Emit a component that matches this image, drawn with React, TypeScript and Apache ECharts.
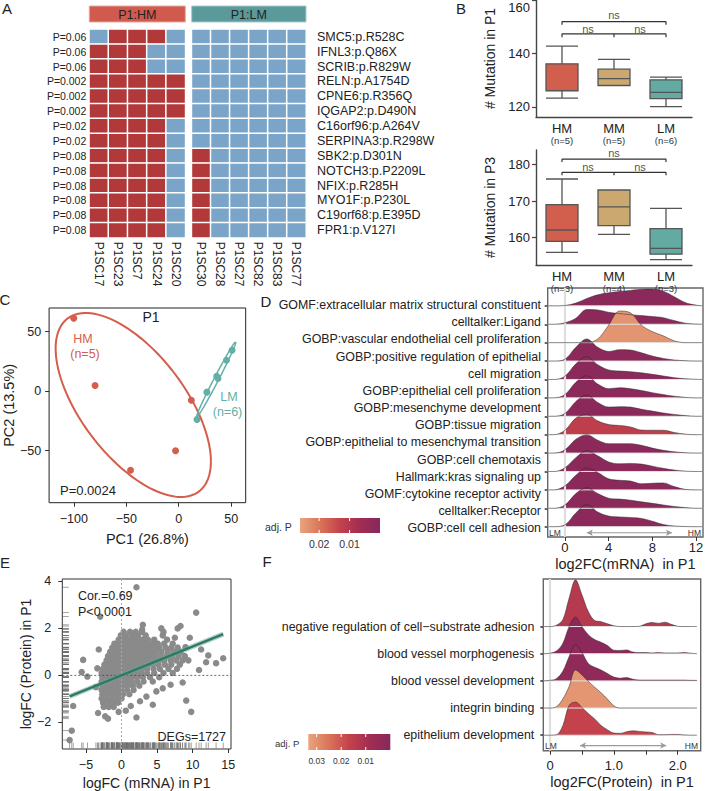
import React, { useEffect, useRef } from "react";
import * as echarts from "echarts";

const FONT = "'Liberation Sans', Arial, Helvetica, sans-serif";

// ---------------- Panel A : mutation heatmap ----------------
const hmSamples = ["P1SC17", "P1SC23", "P1SC7", "P1SC24", "P1SC20"];
const lmSamples = ["P1SC30", "P1SC28", "P1SC27", "P1SC82", "P1SC83", "P1SC77"];
const mutations = [
  "SMC5:p.R528C", "IFNL3:p.Q86X", "SCRIB:p.R829W", "RELN:p.A1754D", "CPNE6:p.R356Q",
  "IQGAP2:p.D490N", "C16orf96:p.A264V", "SERPINA3:p.R298W", "SBK2:p.D301N",
  "NOTCH3:p.P2209L", "NFIX:p.R285H", "MYO1F:p.P230L", "C19orf68:p.E395D", "FPR1:p.V127I",
];
const mutationP = [
  "P=0.06", "P=0.06", "P=0.06", "P=0.002", "P=0.002", "P=0.002", "P=0.02",
  "P=0.02", "P=0.08", "P=0.08", "P=0.08", "P=0.08", "P=0.08", "P=0.08",
];
const hmCalls = [
  [0, 1, 1, 1, 0], [1, 1, 1, 0, 0], [1, 1, 1, 0, 0], [1, 1, 1, 1, 1], [1, 1, 1, 1, 1],
  [1, 1, 1, 1, 1], [1, 1, 1, 1, 0], [1, 1, 1, 1, 0], [1, 1, 1, 1, 0], [1, 1, 1, 1, 0],
  [1, 1, 1, 1, 0], [1, 1, 1, 1, 0], [1, 1, 1, 1, 0], [1, 1, 1, 1, 0],
];
const lmCalls = [
  [0, 0, 0, 0, 0, 0], [0, 0, 0, 0, 0, 0], [0, 0, 0, 0, 0, 0], [0, 0, 0, 0, 0, 0],
  [0, 0, 0, 0, 0, 0], [0, 0, 0, 0, 0, 0], [0, 0, 0, 0, 0, 0], [0, 0, 0, 0, 0, 0],
  [1, 0, 0, 0, 0, 0], [1, 0, 0, 0, 0, 0], [1, 0, 0, 0, 0, 0], [1, 0, 0, 0, 0, 0],
  [1, 0, 0, 0, 0, 0], [1, 0, 0, 0, 0, 0],
];

// ---------------- Panel B : mutation counts ----------------
const groups = ["HM", "MM", "LM"];
const p1N = [5, 5, 6];
const p1Box = [
  [123.3, 126.0, 126.1, 136.1, 142.7],
  [128.0, 128.0, 130.6, 134.1, 137.8],
  [120.1, 123.1, 125.4, 130.1, 131.1],
];
const p3N = [3, 4, 3];
const p3Box = [
  [156.0, 159.0, 162.1, 169.0, 176.0],
  [160.9, 163.3, 168.4, 173.0, 173.0],
  [154.0, 155.5, 157.1, 162.5, 168.0],
];
const p1Bracket = { top: 151.9, low: 147.3, tick: 1.2, nsTop: 154.3, nsLow: 149.3 };
const p3Bracket = { top: 181.4, low: 177.8, tick: 0.8, nsTop: 183.0, nsLow: 179.4 };

// ---------------- Panel C : PCA ----------------
const pcaHM = [[-100, 61.3], [-79.7, 4.8], [12, -7.6], [-3, -50], [-45.9, -66.4]];
const pcaLM = [[17.4, -23.8], [26.8, -0.8], [36.2, 12.6], [37.4, 10.6], [45.5, 26], [50.8, 34.4]];
const ELLIPSE_SCALE = 1.54;

// ---------------- Panel D : ridges (mRNA) ----------------
const dLabelLines = [
  "GOMF:extracellular matrix structural constituent",
  "celltalker:Ligand",
  "GOBP:vascular endothelial cell proliferation",
  "GOBP:positive regulation of epithelial",
  "cell migration",
  "GOBP:epithelial cell proliferation",
  "GOBP:mesenchyme development",
  "GOBP:tissue migration",
  "GOBP:epithelial to mesenchymal transition",
  "GOBP:cell chemotaxis",
  "Hallmark:kras signaling up",
  "GOMF:cytokine receptor activity",
  "celltalker:Receptor",
  "GOBP:cell cell adhesion",
];
const dRidgeX = [-1.6, -1, 0, 1, 2, 3, 4, 5, 6, 7, 8, 9, 10, 11, 12, 12.7];
const dAdjP = [0.001, 0.001, 0.024, 0.001, 0.001, 0.001, 0.001, 0.012, 0.001, 0.001, 0.001, 0.001, 0.001];
const dDensity = [
  [0, 0, 0.02, 0.15, 0.4, 0.6, 0.71, 0.78, 0.84, 0.9, 0.91, 0.8, 0.5, 0.18, 0.04, 0],
  [0, 0, 0.08, 0.33, 0.8, 0.78, 0.65, 0.58, 0.52, 0.47, 0.42, 0.36, 0.2, 0.06, 0.01, 0],
  [0, 0, 0, 0, 0, 0.2, 0.95, 1.72, 1.62, 0.95, 0.6, 0.37, 0.1, 0, 0, 0],
  [0, 0, 0.1, 0.75, 1.2, 0.75, 0.52, 0.62, 0.6, 0.45, 0.27, 0.14, 0.06, 0.02, 0, 0],
  [0, 0, 0.18, 0.85, 1.24, 0.8, 0.52, 0.46, 0.42, 0.36, 0.28, 0.19, 0.1, 0.04, 0.01, 0],
  [0, 0, 0.18, 0.85, 1.2, 0.75, 0.5, 0.55, 0.5, 0.4, 0.28, 0.18, 0.09, 0.03, 0, 0],
  [0, 0, 0.15, 0.8, 1.15, 0.75, 0.5, 0.52, 0.5, 0.38, 0.28, 0.18, 0.1, 0.04, 0, 0],
  [0, 0, 0.24, 0.9, 1.1, 0.75, 0.55, 0.5, 0.42, 0.25, 0.24, 0.24, 0.12, 0.03, 0, 0],
  [0, 0, 0.18, 0.75, 1.0, 0.7, 0.51, 0.51, 0.51, 0.42, 0.27, 0.15, 0.07, 0.02, 0, 0],
  [0, 0, 0.2, 0.75, 1.12, 0.85, 0.52, 0.42, 0.44, 0.4, 0.29, 0.17, 0.08, 0.02, 0, 0],
  [0, 0, 0.22, 0.8, 1.18, 0.95, 0.6, 0.52, 0.48, 0.33, 0.36, 0.38, 0.18, 0.03, 0, 0],
  [0, 0, 0.18, 0.8, 1.12, 0.8, 0.55, 0.5, 0.44, 0.35, 0.27, 0.18, 0.1, 0.04, 0, 0],
  [0, 0, 0.1, 0.75, 1.2, 0.8, 0.58, 0.53, 0.5, 0.45, 0.3, 0.12, 0.04, 0.01, 0, 0],
];
const dPRange = [0.0263, 0.0];
const dLegendTicks = [0.02, 0.01];

// ---------------- Panel E : mRNA vs protein ----------------
const eCoreRows: [number, number[]][] = [
  [1.85, [0.3, 1.2, 2.0, 2.9]],
  [1.7, [-0.1, 0.6, 1.5, 2.3, 3.4, 5.8]],
  [1.52, [-0.4, 0.2, 0.9, 1.6, 2.2, 2.9, 3.7, 4.6, 6.4]],
  [1.35, [-1.0, -0.3, 0.4, 1.1, 1.7, 2.4, 3.0, 3.6, 4.3, 5.1, 6.0, 7.2]],
  [1.18, [-1.3, -0.6, 0.0, 0.6, 1.3, 1.9, 2.5, 3.2, 3.8, 4.5, 5.3, 6.2, 7.0, 7.9]],
  [1.0, [-1.6, -0.9, -0.2, 0.4, 1.0, 1.6, 2.3, 2.9, 3.5, 4.1, 4.8, 5.6, 6.5, 7.4, 8.3]],
  [0.82, [-1.9, -1.2, -0.5, 0.2, 0.8, 1.4, 2.0, 2.7, 3.3, 4.0, 4.7, 5.5, 6.3, 7.1, 8.0, 8.9]],
  [0.64, [-2.1, -1.4, -0.7, 0.0, 0.6, 1.2, 1.9, 2.5, 3.1, 3.8, 4.6, 5.3, 6.0, 6.9, 7.7, 8.6, 9.4]],
  [0.46, [-2.4, -1.7, -1.0, -0.3, 0.4, 1.0, 1.7, 2.3, 3.0, 3.7, 4.4, 5.2, 6.1, 7.0, 8.2]],
  [0.28, [-2.6, -1.9, -1.2, -0.5, 0.2, 0.9, 1.5, 2.2, 2.9, 3.6, 4.5, 5.4, 6.6, 7.8]],
  [0.1, [-2.8, -2.1, -1.4, -0.7, 0.0, 0.7, 1.4, 2.1, 2.8, 3.6, 4.6, 5.9, 7.2]],
  [-0.08, [-2.7, -2.0, -1.3, -0.6, 0.1, 0.8, 1.5, 2.2, 3.0, 4.0, 5.3]],
  [-0.26, [-2.8, -2.1, -1.4, -0.7, 0.0, 0.7, 1.4, 2.2, 3.1, 4.4]],
  [-0.44, [-2.7, -2.0, -1.3, -0.6, 0.1, 0.8, 1.6, 2.5]],
  [-0.62, [-2.8, -2.1, -1.4, -0.7, 0.0, 0.8, 1.7]],
  [-0.8, [-2.7, -2.0, -1.3, -0.6, 0.2, 1.1]],
  [-0.98, [-2.8, -2.1, -1.4, -0.7, 0.0]],
  [-1.16, [-2.6, -1.9, -1.2, -0.5]],
  [-1.34, [-2.5, -1.8, -1.1]],
];
const eOutliers: [number, number][] = [
  [2.1, 3.75], [-3.0, 2.5], [10.5, 2.67], [-5.4, 0.66], [-5.6, 0.14], [-4.8, -0.05],
  [-6.8, -1.3], [-7.0, -2.35], [-7.3, -2.75], [2.9, 1.95], [3.0, 2.15], [5.6, 2.0],
  [5.9, 1.85], [7.9, 2.0], [8.3, 2.1], [14.3, 0.73], [13.3, 0.52], [11.9, 0.56],
  [9.1, -1.07], [9.8, -1.55], [2.1, -1.79], [-3.3, -1.6], [-1.9, -1.84], [-2.3, -1.74],
  [4.9, -0.68], [11.2, 1.1], [9.6, 1.6], [10.9, 0.23], [6.9, -0.4], [8.6, -0.3],
  [5.8, -0.55], [3.5, -0.9], [4.4, -1.25], [-3.6, -0.5], [-3.4, 0.3], [-3.2, 1.1],
  [1.3, -1.3], [0.6, -1.5], [-0.4, -1.55], [7.5, 1.6], [9.0, 1.2], [12.2, 0.85], [2.6, -1.1],
];
const eFit = { slope: 0.1226, intercept: 0.0, from: -7.3, to: 14.3 };
const eStats = ["Cor.=0.69", "P<0.0001", "DEGs=1727"];

// ---------------- Panel F : ridges (protein) ----------------
const fPathways = [
  "negative regulation of cell\u2212substrate adhesion",
  "blood vessel morphogenesis",
  "blood vessel development",
  "integrin binding",
  "epithelium development",
];
const fRidgeX = [-0.1, 0, 0.1, 0.2, 0.3, 0.4, 0.5, 0.6, 0.7, 0.8, 0.9, 1.0, 1.1, 1.2, 1.3, 1.4, 1.5, 1.6, 1.7, 1.8, 1.9, 2.0, 2.1, 2.2, 2.3];
const fAdjP = [0.0134, 0.002, 0.003, 0.031, 0.0167];
const fDensity = [
  [0, 0, 0.05, 0.25, 1.05, 1.72, 1.17, 0.55, 0.22, 0.18, 0.1, 0.03, 0, 0, 0, 0.01, 0.1, 0.15, 0.12, 0.16, 0.08, 0.01, 0, 0, 0],
  [0, 0.02, 0.1, 0.38, 1.0, 1.35, 1.0, 0.7, 0.52, 0.42, 0.3, 0.13, 0.12, 0.14, 0.06, 0.04, 0.04, 0.03, 0.04, 0.03, 0.03, 0.03, 0.04, 0.02, 0],
  [0, 0.02, 0.08, 0.35, 0.9, 1.34, 1.05, 0.64, 0.5, 0.4, 0.27, 0.14, 0.1, 0.12, 0.06, 0.03, 0.03, 0.03, 0.03, 0.03, 0.03, 0.03, 0.03, 0.02, 0.02],
  [0, 0, 0.05, 0.33, 0.8, 1.4, 1.22, 0.98, 0.77, 0.56, 0.33, 0.08, 0, 0, 0, 0, 0, 0, 0, 0, 0, 0, 0, 0, 0],
  [0, 0, 0.02, 0.35, 1.1, 1.22, 1.02, 0.8, 0.6, 0.36, 0.2, 0.08, 0.07, 0.13, 0.16, 0.14, 0.12, 0.1, 0.02, 0.02, 0.03, 0.03, 0.01, 0, 0],
];
const fPRange = [0.0334, 0.0];
const fLegendTicks = [0.03, 0.02, 0.01];

// ---------------- colours ----------------
const HEAT_RED = "#B2393A";
const HEAT_BLUE = "#7BA5C8";
const GROUP_COLORS = ["#D25F4E", "#CBA86F", "#62AAA2"];
const HM_RED = "#D45D4B";
const LM_TEAL = "#62B0A6";
const P_STOPS = ["#E8A47D", "#DA7559", "#C4424B", "#A12D52", "#87285C"];

function hexToRgb(h: string) {
  const n = parseInt(h.slice(1), 16);
  return [(n >> 16) & 255, (n >> 8) & 255, n & 255];
}
function pColor(p: number, range: number[]) {
  let t = (range[0] - p) / (range[0] - range[1]);
  t = Math.max(0, Math.min(1, t));
  const seg = (P_STOPS.length - 1) * t;
  const i = Math.min(Math.floor(seg), P_STOPS.length - 2);
  const f = seg - i;
  const a = hexToRgb(P_STOPS[i]);
  const b = hexToRgb(P_STOPS[i + 1]);
  const c = a.map((v, k) => Math.round(v + (b[k] - v) * f));
  return `rgb(${c[0]},${c[1]},${c[2]})`;
}

function covEllipse(pts: number[][], k: number, n = 120) {
  const m = pts.length;
  const mx = pts.reduce((s, p) => s + p[0], 0) / m;
  const my = pts.reduce((s, p) => s + p[1], 0) / m;
  let sxx = 0, syy = 0, sxy = 0;
  pts.forEach(([x, y]) => {
    sxx += (x - mx) ** 2;
    syy += (y - my) ** 2;
    sxy += (x - mx) * (y - my);
  });
  sxx /= m - 1; syy /= m - 1; sxy /= m - 1;
  const a = Math.sqrt(sxx);
  const b = sxy / a;
  const c = Math.sqrt(Math.max(syy - b * b, 0));
  const out: number[][] = [];
  for (let i = 0; i <= n; i++) {
    const t = (2 * Math.PI * i) / n;
    const u = Math.cos(t), v = Math.sin(t);
    out.push([mx + k * a * u, my + k * (b * u + c * v)]);
  }
  return out;
}

const minus = (v: number) => String(v).replace("-", "\u2212");

function txt(text: string, x: number, y: number, size: number, o: any = {}) {
  return {
    type: "text", x, y, silent: true, z: 100,
    style: {
      text, fontSize: size, fontFamily: FONT, fill: o.fill || "#222",
      align: o.align || "left", verticalAlign: o.va || "middle",
    },
  };
}

function buildOption() {
  const series: any[] = [];
  const xAxis: any[] = [];
  const yAxis: any[] = [];
  const tickStyle = { color: "#333", width: 1 };
  const noLine = { show: false, onZero: false };
  const lbl = (size: number, extra: any = {}) => ({ fontSize: size, fontFamily: FONT, color: "#222", ...extra });

  const grid = [
    { left: 89.3, top: 29.3, width: 96, height: 208.4 },
    { left: 191.7, top: 29.3, width: 114.3, height: 208.4 },
    { left: 536, top: 0, width: 156, height: 117 },
    { left: 536, top: 150, width: 156, height: 115 },
    { left: 46.7, top: 308, width: 199, height: 194.7, show: true, borderColor: "#222", borderWidth: 1 },
    { left: 547.7, top: 288, width: 155.3, height: 249, show: true, borderColor: "#666", borderWidth: 1.4 },
    { left: 545, top: 305, width: 1, height: 223.3 },
    { left: 62.3, top: 579, width: 168.7, height: 170.3, show: true, borderColor: "#333", borderWidth: 1 },
    { left: 543.3, top: 579, width: 157.4, height: 171.7, show: true, borderColor: "#666", borderWidth: 1.4 },
  ];

  // ---- A (axes 0, 1)
  xAxis.push({
    type: "category", gridIndex: 0, data: hmSamples, axisLine: noLine, axisTick: { show: false },
    axisLabel: lbl(12, { rotate: -90, margin: 4, interval: 0 }),
  });
  yAxis.push({
    type: "category", gridIndex: 0, data: mutations, inverse: true, axisLine: noLine, axisTick: { show: false },
    axisLabel: lbl(10.5, { margin: 3, interval: 0, formatter: (_v: string, i: number) => mutationP[i] }),
  });
  xAxis.push({
    type: "category", gridIndex: 1, data: lmSamples, axisLine: noLine, axisTick: { show: false },
    axisLabel: lbl(12, { rotate: -90, margin: 4, interval: 0 }),
  });
  yAxis.push({
    type: "category", gridIndex: 1, data: mutations, inverse: true, position: "right",
    axisLine: noLine, axisTick: { show: false }, axisLabel: lbl(12.5, { margin: 11, interval: 0 }),
  });
  const hmData: number[][] = [];
  hmCalls.forEach((row, r) => row.forEach((v, c) => hmData.push([c, r, v])));
  const lmData: number[][] = [];
  lmCalls.forEach((row, r) => row.forEach((v, c) => lmData.push([c, r, v])));
  series.push({ type: "heatmap", xAxisIndex: 0, yAxisIndex: 0, data: hmData, itemStyle: { borderColor: "#fff", borderWidth: 1.5 } });
  series.push({ type: "heatmap", xAxisIndex: 1, yAxisIndex: 1, data: lmData, itemStyle: { borderColor: "#fff", borderWidth: 1.5 } });

  // ---- B (axes 2, 3 ; annotation x axes 9, 10)
  const annotX: any[] = [];
  const boxPanel = (gi: number, annotIndex: number, boxes: number[][], ns: number[], min: number, max: number, ticks: number[], name: string, br: any) => {
    const ai = gi;
    xAxis.push({
      type: "category", gridIndex: gi, data: groups,
      axisLine: { lineStyle: { color: "#444", width: 1.4 } },
      axisTick: { alignWithLabel: true, length: 4, lineStyle: { color: "#444", width: 1.2 } },
      axisLabel: {
        margin: 4, interval: 0,
        formatter: (v: string, i: number) => `{g|${v}}\n{n|(n=${ns[i]})}`,
        rich: {
          g: { fontSize: 13, fontFamily: FONT, color: "#222", lineHeight: 14 },
          n: { fontSize: 9.5, fontFamily: FONT, color: "#333", lineHeight: 11 },
        },
      },
    });
    annotX.push({ type: "value", gridIndex: gi, min: -0.5, max: 2.5, show: false });
    yAxis.push({
      type: "value", gridIndex: gi, min, max,
      axisLine: { show: true, onZero: false, lineStyle: { color: "#444", width: 1.4 } },
      axisTick: { show: true, customValues: ticks, length: 4, lineStyle: { color: "#444", width: 1.2 } },
      axisLabel: {
        customValues: ticks, margin: 6, fontSize: 13, fontFamily: FONT, color: "#222",
        formatter: (v: number) => (v === max ? `{t|${v}}` : `${v}`),
        rich: { t: { fontSize: 13, fontFamily: FONT, color: "#222", padding: [14, 0, 0, 0] } },
      },
      splitLine: { show: false },
      name, nameLocation: "middle", nameGap: 39, nameRotate: 90,
      nameTextStyle: { fontSize: 14, fontFamily: FONT, color: "#222" },
    });
    series.push({
      type: "boxplot", xAxisIndex: ai, yAxisIndex: ai, boxWidth: [32, 32], silent: true,
      data: boxes.map((b, i) => ({ value: b, itemStyle: { color: GROUP_COLORS[i], borderColor: "#555", borderWidth: 1.3 } })),
    });
    const ln = (data: number[][]) => ({
      type: "line", xAxisIndex: annotIndex, yAxisIndex: ai, data, symbol: "none", silent: true,
      lineStyle: { color: "#333", width: 1.2 }, z: 3,
    });
    series.push(ln([[0, br.top - br.tick], [0, br.top], [2, br.top], [2, br.top - br.tick]]));
    series.push(ln([[0, br.low - br.tick], [0, br.low], [2, br.low], [2, br.low - br.tick]]));
    series.push(ln([[1, br.low], [1, br.low - br.tick]]));
    series.push({
      type: "scatter", xAxisIndex: annotIndex, yAxisIndex: ai, silent: true, symbolSize: 1,
      itemStyle: { color: "rgba(0,0,0,0)" },
      data: [[1, br.nsTop], [0.5, br.nsLow], [1.5, br.nsLow]],
      label: { show: true, position: "inside", formatter: "ns", fontSize: 11, fontFamily: FONT, color: "#222" },
    });
  };
  boxPanel(2, 9, p1Box, p1N, 116.2, 160, [120, 140, 160], "# Mutation in P1", p1Bracket);
  boxPanel(3, 10, p3Box, p3N, 152.56, 183.9, [160, 170, 180], "# Mutation in P3", p3Bracket);

  // ---- C (axis index 4)
  xAxis.push({
    type: "value", gridIndex: 4, min: -123.5, max: 63.8, axisLine: noLine,
    axisTick: { show: true, customValues: [-100, -50, 0, 50], length: 4, lineStyle: tickStyle },
    axisLabel: lbl(12.5, { customValues: [-100, -50, 0, 50], margin: 10, formatter: minus }),
    splitLine: { show: false },
    name: "PC1 (26.8%)", nameLocation: "middle", nameGap: 29, nameTextStyle: lbl(14.5),
  });
  yAxis.push({
    type: "value", gridIndex: 4, min: -93.7, max: 69.9, axisLine: noLine,
    axisTick: { show: true, customValues: [-50, 0, 50], length: 4, lineStyle: tickStyle },
    axisLabel: lbl(12.5, { customValues: [-50, 0, 50], margin: 8, formatter: minus }),
    splitLine: { show: false },
    name: "PC2 (13.5%)", nameLocation: "middle", nameGap: 33, nameRotate: 90, nameTextStyle: lbl(14.5),
  });
  series.push({
    type: "line", xAxisIndex: 4, yAxisIndex: 4, data: covEllipse(pcaHM, ELLIPSE_SCALE), symbol: "none",
    silent: true, lineStyle: { color: HM_RED, width: 2 },
  });
  series.push({
    type: "line", xAxisIndex: 4, yAxisIndex: 4, data: covEllipse(pcaLM, ELLIPSE_SCALE), symbol: "none",
    silent: true, lineStyle: { color: LM_TEAL, width: 1.5 },
  });
  series.push({ type: "scatter", xAxisIndex: 4, yAxisIndex: 4, data: pcaHM, symbolSize: 7, itemStyle: { color: HM_RED, opacity: 1 }, silent: true });
  series.push({ type: "scatter", xAxisIndex: 4, yAxisIndex: 4, data: pcaLM, symbolSize: 7, itemStyle: { color: LM_TEAL, opacity: 1 }, silent: true });

  // ---- D (axis index 5 ridges, 6 labels)
  xAxis.push({
    type: "value", gridIndex: 5, min: -1.58, max: 12.64, axisLine: noLine,
    axisTick: { show: true, customValues: [0, 4, 8, 12], length: 4, lineStyle: tickStyle },
    axisLabel: lbl(13, { customValues: [0, 4, 8, 12], margin: 4 }),
    splitLine: { show: false },
    name: "log2FC(mRNA)  in P1", nameLocation: "middle", nameGap: 19, nameTextStyle: lbl(14.5),
  });
  yAxis.push({
    type: "value", gridIndex: 5, min: -0.56, max: 12.97, axisLine: noLine,
    axisTick: { show: true, customValues: [0, 1, 2, 3, 4, 5, 6, 7, 8, 9, 10, 11, 12], length: 3, lineStyle: { color: "#333", width: 1.5 } },
    axisLabel: { show: false }, splitLine: { show: false },
  });
  xAxis.push({ type: "value", gridIndex: 6, show: false, min: 0, max: 1 });
  yAxis.push({
    type: "category", gridIndex: 6, data: dLabelLines, inverse: true, boundaryGap: false,
    axisLine: noLine, axisTick: { show: false }, axisLabel: lbl(12.4, { margin: 4, interval: 0 }),
  });

  const ridgeSeries = (axi: number, xs: number[], dens: number[][], pvals: number[], prange: number[], yMin: number, yMax: number) => {
    const nRows = dens.length;
    series.push({
      type: "line", xAxisIndex: axi, yAxisIndex: axi, data: [[0, yMin], [0, yMax]], symbol: "none", silent: true,
      lineStyle: { color: "#dedede", width: 2.2 },
    });
    dens.forEach((h, r) => {
      const off = nRows - 1 - r;
      series.push({
        type: "line", xAxisIndex: axi, yAxisIndex: axi, symbol: "none", silent: true,
        data: [[xs[0], off], [xs[xs.length - 1], off]], lineStyle: { color: "#e3e3e3", width: 1 },
      });
      series.push({
        type: "line", xAxisIndex: axi, yAxisIndex: axi, symbol: "none", silent: true,
        smooth: 0.35, data: xs.map((x, i) => [x, off + h[i]]),
        lineStyle: { color: "#2a2a2a", width: 0.5 },
        areaStyle: { color: pColor(pvals[r], prange), opacity: 1, origin: off },
      });
    });
  };
  ridgeSeries(5, dRidgeX, dDensity, dAdjP, dPRange, -0.56, 12.97);
  series.push({
    type: "line", xAxisIndex: 5, yAxisIndex: 5, silent: true, symbol: "arrow", symbolSize: [5, 6],
    lineStyle: { color: "#9a9a9a", width: 1.2 }, itemStyle: { color: "#9a9a9a" },
    data: [{ value: [2, -0.33], symbolRotate: 90 }, { value: [9.8, -0.33], symbolRotate: -90 }],
  });

  // ---- E (axis index 7)
  const ePts: number[][] = [];
  eCoreRows.forEach(([y, xs]) => xs.forEach((x) => ePts.push([x, y])));
  eOutliers.forEach((p) => ePts.push(p));
  const E_XMIN = -8.33, E_XMAX = 15.4, E_YMIN = -3.13, E_YMAX = 4.1;
  xAxis.push({
    type: "value", gridIndex: 7, min: E_XMIN, max: E_XMAX, axisLine: noLine,
    axisTick: { show: true, customValues: [-5, 0, 5, 10, 15], length: 4, lineStyle: tickStyle },
    axisLabel: lbl(12.5, { customValues: [-5, 0, 5, 10, 15], margin: 9, formatter: minus }),
    splitLine: { show: false },
    name: "logFC (mRNA) in P1", nameLocation: "middle", nameGap: 27, nameTextStyle: lbl(14),
  });
  yAxis.push({
    type: "value", gridIndex: 7, min: E_YMIN, max: E_YMAX, axisLine: noLine,
    axisTick: { show: true, customValues: [-2, 0, 2, 4], length: 4, lineStyle: tickStyle },
    axisLabel: lbl(12.5, { customValues: [-2, 0, 2, 4], margin: 11, formatter: minus }),
    splitLine: { show: false },
    name: "logFC (Protein) in P1", nameLocation: "middle", nameGap: 27, nameRotate: 90, nameTextStyle: lbl(14),
  });
  series.push({
    type: "scatter", xAxisIndex: 7, yAxisIndex: 7, data: ePts, symbolSize: 6.5, silent: true,
    itemStyle: { color: "#8a8a8a", opacity: 1 },
  });
  series.push({
    type: "scatter", xAxisIndex: 7, yAxisIndex: 7, data: ePts.map((p) => [p[0], E_YMIN]), silent: true, clip: false,
    symbol: "rect", symbolSize: [0.8, 6], symbolOffset: [0, -3.5], itemStyle: { color: "#6f6f6f", opacity: 0.8 },
  });
  series.push({
    type: "scatter", xAxisIndex: 7, yAxisIndex: 7, data: ePts.map((p) => [E_XMIN, p[1]]), silent: true, clip: false,
    symbol: "rect", symbolSize: [6, 0.8], symbolOffset: [3.5, 0], itemStyle: { color: "#6f6f6f", opacity: 0.8 },
  });
  series.push({
    type: "line", xAxisIndex: 7, yAxisIndex: 7, data: [[0, E_YMIN], [0, E_YMAX]], symbol: "none", silent: true,
    lineStyle: { color: "#aaa", width: 1, type: [2, 2] },
  });
  series.push({
    type: "line", xAxisIndex: 7, yAxisIndex: 7, data: [[E_XMIN, 0], [E_XMAX, 0]], symbol: "none", silent: true,
    lineStyle: { color: "#444", width: 0.8, type: [2, 2] },
  });
  const fitLine = [
    [eFit.from, eFit.intercept + eFit.slope * eFit.from],
    [eFit.to, eFit.intercept + eFit.slope * eFit.to],
  ];
  series.push({
    type: "line", xAxisIndex: 7, yAxisIndex: 7, data: fitLine, symbol: "none", silent: true,
    lineStyle: { color: "#6aa898", width: 5, opacity: 0.5 },
  });
  series.push({
    type: "line", xAxisIndex: 7, yAxisIndex: 7, data: fitLine, symbol: "none", silent: true,
    lineStyle: { color: "#2e7a66", width: 2.4 },
  });

  // ---- F (axis index 8)
  xAxis.push({
    type: "value", gridIndex: 8, min: -0.105, max: 2.36, axisLine: noLine,
    axisTick: { show: true, customValues: [0, 0.5, 1, 1.5, 2], length: 4, lineStyle: tickStyle },
    axisLabel: lbl(13, { customValues: [0, 1, 2], margin: 8, formatter: (v: number) => (v === 0 ? "0" : v.toFixed(1)) }),
    splitLine: { show: false },
    name: "log2FC(Protein)  in P1", nameLocation: "middle", nameGap: 24, nameTextStyle: lbl(14.5),
  });
  yAxis.push({
    type: "value", gridIndex: 8, min: -0.57, max: 5.75, axisLine: noLine,
    axisTick: { show: true, customValues: [0, 1, 2, 3, 4], length: 3, lineStyle: { color: "#333", width: 1.5 } },
    axisLabel: lbl(12.4, { customValues: [0, 1, 2, 3, 4], margin: 9, formatter: (v: number) => fPathways[4 - v] }),
    splitLine: { show: false },
  });
  ridgeSeries(8, fRidgeX, fDensity, fAdjP, fPRange, -0.57, 5.75);
  series.push({
    type: "line", xAxisIndex: 8, yAxisIndex: 8, silent: true, symbol: "arrow", symbolSize: [5, 6],
    lineStyle: { color: "#9a9a9a", width: 1.2 }, itemStyle: { color: "#9a9a9a" },
    data: [{ value: [0.47, -0.38], symbolRotate: 90 }, { value: [1.82, -0.38], symbolRotate: -90 }],
  });

  // annotation axes for B appended (indices 9, 10)
  annotX.forEach((a) => xAxis.push(a));

  // ---- graphics
  const gradient = () =>
    new echarts.graphic.LinearGradient(0, 0, 1, 0, P_STOPS.map((c, i) => ({ offset: i / (P_STOPS.length - 1), color: c })));
  const legend = (x: number, y: number, w: number, h: number, ticks: number[], range: number[], lblSize: number, titleX: number, titleSize: number) => {
    const els: any[] = [
      txt("adj. P", titleX, y + h / 2 + 1, titleSize, { fill: "#333" }),
      { type: "rect", silent: true, shape: { x, y, width: w, height: h }, style: { fill: gradient() } },
    ];
    ticks.forEach((p) => {
      const tx = x + ((range[0] - p) / (range[0] - range[1])) * w;
      els.push({ type: "line", silent: true, shape: { x1: tx, y1: y, x2: tx, y2: y + 3 }, style: { stroke: "#fff", lineWidth: 1 } });
      els.push({ type: "line", silent: true, shape: { x1: tx, y1: y + h - 3, x2: tx, y2: y + h }, style: { stroke: "#fff", lineWidth: 1 } });
      els.push(txt(String(p), tx, y + h + 10.5, lblSize, { align: "center", fill: "#333" }));
    });
    return els;
  };

  const graphic: any[] = [
    txt("A", 7, 8, 15, { align: "center" }),
    txt("B", 461, 8, 15, { align: "center" }),
    txt("C", 5, 299, 15, { align: "center" }),
    txt("D", 266, 301, 15, { align: "center" }),
    txt("E", 5, 562, 15, { align: "center" }),
    txt("F", 267, 561, 15, { align: "center" }),
    { type: "rect", silent: true, shape: { x: 89.3, y: 6, width: 96, height: 16 }, style: { fill: "#D15A4E", stroke: "#EBA79E", lineWidth: 1 } },
    { type: "rect", silent: true, shape: { x: 191.7, y: 6, width: 114.3, height: 16 }, style: { fill: "#5B999B", stroke: "#A6CCCC", lineWidth: 1 } },
    txt("P1:HM", 137.3, 14.5, 12.5, { align: "center" }),
    txt("P1:LM", 248.8, 14.5, 12.5, { align: "center" }),
    txt("P1", 151, 316.5, 14, { align: "center" }),
    txt("HM", 83, 339, 12.5, { align: "center", fill: HM_RED }),
    txt("(n=5)", 85, 353.5, 12.5, { align: "center", fill: HM_RED }),
    txt("LM", 229, 397, 12.5, { align: "center", fill: LM_TEAL }),
    txt("(n=6)", 227.5, 411.5, 12.5, { align: "center", fill: LM_TEAL }),
    txt("P=0.0024", 60, 490, 13),
    txt(eStats[0], 78, 596, 12.5),
    txt(eStats[1], 78, 612, 12.5),
    txt(eStats[2], 226, 737, 12.5, { align: "right" }),
    txt("LM", 549, 532.5, 8.5, { fill: "#333" }),
    txt("HM", 701, 532.5, 8.5, { fill: "#333", align: "right" }),
    txt("LM", 545, 745.5, 8.5, { fill: "#333" }),
    txt("HM", 698, 745.5, 8.5, { fill: "#333", align: "right" }),
    ...legend(300, 518, 80, 15, dLegendTicks, dPRange, 10.5, 265, 10.5),
    ...legend(308.3, 734, 82, 16, fLegendTicks, fPRange, 8.5, 275, 9.5),
  ];

  return {
    animation: false,
    backgroundColor: "#fff",
    textStyle: { fontFamily: FONT },
    grid, xAxis, yAxis, series, graphic,
    visualMap: [{
      type: "piecewise", show: false, seriesIndex: [0, 1], dimension: 2,
      pieces: [{ value: 0, color: HEAT_BLUE }, { value: 1, color: HEAT_RED }],
    }],
  };
}

export default function App() {
  const ref = useRef<HTMLDivElement>(null);
  useEffect(() => {
    if (!ref.current) return;
    const chart = echarts.init(ref.current, null, { renderer: "svg" });
    chart.setOption(buildOption() as any);
    return () => chart.dispose();
  }, []);
  return (
    <div
      ref={ref}
      style={{ position: "absolute", left: 0, top: 0, width: 707, height: 791, background: "#fff" }}
    />
  );
}
